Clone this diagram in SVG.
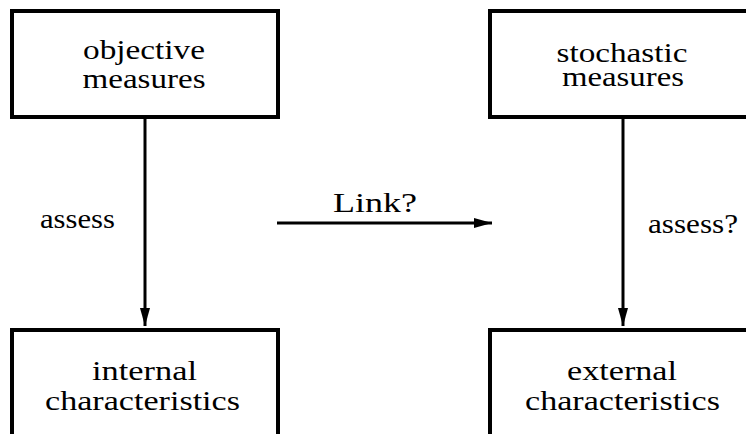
<svg xmlns="http://www.w3.org/2000/svg" width="746" height="434" viewBox="0 0 746 434">
<style>
.box{fill:#fff;stroke:#000;stroke-width:4}
.t{font-size:28px;fill:#000;text-anchor:middle}
.c{stroke:#000;stroke-width:3;fill:none}
</style>
<defs>
<marker id="ah" markerUnits="userSpaceOnUse" markerWidth="20" markerHeight="12" refX="18" refY="5" orient="auto">
<path d="M0,0 L18,5 L0,10 Z" fill="#000"/>
</marker>
</defs>
<g font-family="'Liberation Serif', 'DejaVu Serif', serif">
<g id="objective">
<rect class="box" x="12" y="11" width="266" height="106"/>
<text class="t" x="144" y="59" textLength="122" lengthAdjust="spacingAndGlyphs">objective</text>
<text class="t" x="144" y="88" textLength="123" lengthAdjust="spacingAndGlyphs">measures</text>
</g>
<g id="stochastic">
<rect class="box" x="490" y="11" width="280" height="106"/>
<text class="t" x="622" y="62" textLength="131" lengthAdjust="spacingAndGlyphs">stochastic</text>
<text class="t" x="623" y="86" textLength="122" lengthAdjust="spacingAndGlyphs">measures</text>
</g>
<g id="internal">
<rect class="box" x="12" y="330" width="266" height="130"/>
<text class="t" x="144.5" y="380" textLength="105" lengthAdjust="spacingAndGlyphs">internal</text>
<text class="t" x="142.5" y="410" textLength="195" lengthAdjust="spacingAndGlyphs">characteristics</text>
</g>
<g id="external">
<rect class="box" x="490" y="330" width="280" height="130"/>
<text class="t" x="622" y="380" textLength="110" lengthAdjust="spacingAndGlyphs">external</text>
<text class="t" x="622.5" y="410" textLength="195" lengthAdjust="spacingAndGlyphs">characteristics</text>
</g>
<g id="connectors">
<line class="c" x1="145" y1="119" x2="145" y2="326" marker-end="url(#ah)"/>
<line class="c" x1="623" y1="119" x2="623" y2="326" marker-end="url(#ah)"/>
<line class="c" x1="277" y1="223" x2="492" y2="223" marker-end="url(#ah)"/>
<text class="t" x="77.5" y="228" textLength="75" lengthAdjust="spacingAndGlyphs">assess</text>
<text class="t" x="693" y="233" textLength="90" lengthAdjust="spacingAndGlyphs">assess?</text>
<text class="t" x="375" y="212" textLength="84" lengthAdjust="spacingAndGlyphs">Link?</text>
</g>
</g>
</svg>
